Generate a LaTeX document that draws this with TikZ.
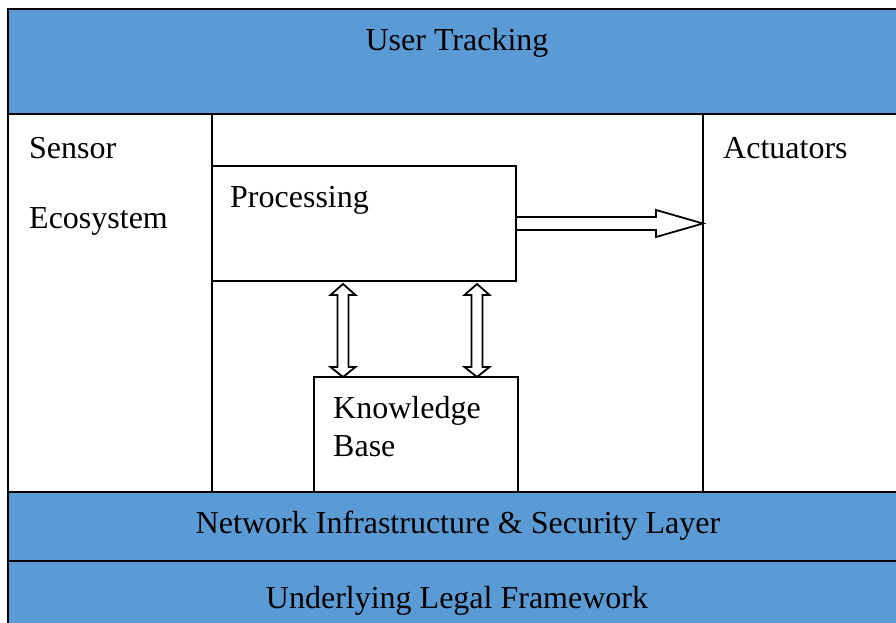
\documentclass[tikz,border=0pt]{standalone}
\usepackage{fontspec}
\setmainfont{Liberation Serif}
\usetikzlibrary{calc}
\definecolor{bandblue}{HTML}{5B9BD5}
\tikzset{
  frame/.style={draw=black, line width=1.5pt, inner sep=0pt, outer sep=0pt},
  band/.style={frame, fill=bandblue},
  panel/.style={frame, fill=white},
  lbl/.style={font=\fontsize{32}{37}\selectfont, inner sep=0pt},
  hollow/.style={draw=black, fill=white, line width=1.8pt, line join=miter}
}
\begin{document}
\begin{tikzpicture}[x=1pt, y=-1pt]
  \useasboundingbox (0,0) rectangle (896,623);
  \clip (0,0) rectangle (896,623);
  \fill[white] (0,0) rectangle (896,623);

  % side panels and inner blocks
  \node[panel, minimum width=204pt, minimum height=378pt] (sensor) at (110,303) {};
  \node[panel, minimum width=202pt, minimum height=378pt] (act) at (804,303) {};
  \node[panel, minimum width=304pt, minimum height=115pt] (proc) at (364,223.5) {};
  \node[panel, minimum width=204pt, minimum height=115pt] (kb) at (416,434.5) {};

  % horizontal layers
  \node[band, minimum width=897pt, minimum height=105pt] (track) at (456.5,61.5) {};
  \node[band, minimum width=897pt, minimum height=69pt] (net) at (456.5,526.5) {};
  \node[band, minimum width=897pt, minimum height=79pt] (legal) at (456.5,600.5) {};

  % labels
  \node[lbl] (trackT) at (457,43) {User Tracking};
  \node[lbl, anchor=west] (sensorT) at (29,148) {Sensor};
  \node[lbl, anchor=west] (ecoT) at (29,221) {Ecosystem};
  \node[lbl, anchor=west] (actT) at (723,148) {Actuators};
  \node[lbl, anchor=west] (procT) at (230,200) {Processing};
  \node[lbl, anchor=west] (kbT1) at (333,411) {Knowledge};
  \node[lbl, anchor=west] (kbT2) at (333,446) {Base};
  \node[lbl] (netT) at (458,526) {Network Infrastructure \& Security Layer};
  \node[lbl] (legalT) at (457,601) {Underlying Legal Framework};

  % block arrow: processing -> actuators
  \coordinate (tip) at (proc.east -| act.west);
  \draw[hollow] ($(proc.east)+(0,-6.5)$) -- ($(tip)+(-47,-6.5)$) -- ($(tip)+(-47,-13.5)$)
    -- (tip) -- ($(tip)+(-47,13.5)$) -- ($(tip)+(-47,6.5)$) -- ($(proc.east)+(0,6.5)$) -- cycle;

  % double block arrows: processing <-> knowledge base
  \foreach \xx/\nm in {343/a, 477/b} {
    \coordinate (up\nm) at ($(proc.south -| \xx,0)+(0,3)$);
    \coordinate (dn\nm) at (kb.north -| \xx,0);
    \draw[hollow] (up\nm) -- ($(up\nm)+(12.5,11)$) -- ($(up\nm)+(5.5,11)$)
      -- ($(dn\nm)+(5.5,-10)$) -- ($(dn\nm)+(12.5,-10)$) -- (dn\nm)
      -- ($(dn\nm)+(-12.5,-10)$) -- ($(dn\nm)+(-5.5,-10)$)
      -- ($(up\nm)+(-5.5,11)$) -- ($(up\nm)+(-12.5,11)$) -- cycle;
  }
\end{tikzpicture}
\end{document}
